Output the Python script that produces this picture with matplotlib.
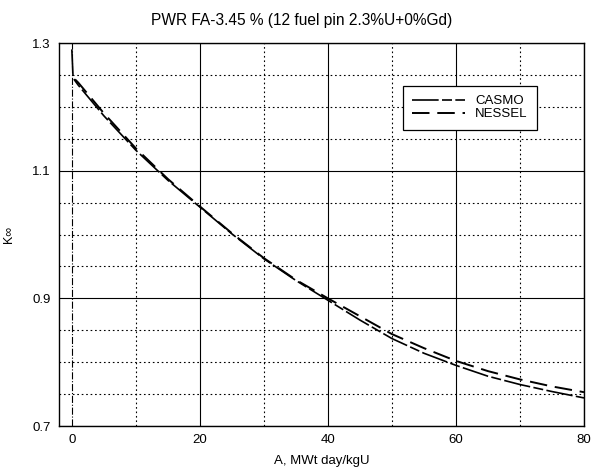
import numpy as np
import matplotlib
matplotlib.use("Agg")
import matplotlib.pyplot as plt

plt.rcParams['font.family'] = ['Liberation Sans', 'DejaVu Sans']

# burnup (MWt day/kgU) and K-inf
x_casmo = [0, 0.2, 1, 5, 10, 15, 20, 25, 30, 35, 40, 45, 50, 55, 60, 65, 70, 75, 80]
k_casmo = [1.29, 1.245, 1.234, 1.186, 1.132, 1.085, 1.043, 1.001, 0.962, 0.928, 0.897,
           0.866, 0.837, 0.814, 0.795, 0.778, 0.765, 0.754, 0.744]

x_nessel = [0.5, 1, 5, 10, 15, 20, 25, 30, 35, 40, 45, 50, 55, 60, 65, 70, 75, 80]
k_nessel = [1.243, 1.238, 1.190, 1.135, 1.087, 1.044, 1.002, 0.963, 0.929, 0.900,
            0.872, 0.844, 0.822, 0.802, 0.786, 0.773, 0.762, 0.753]

xticks = [0, 20, 40, 60, 80]
xminor = [10, 30, 50, 70]
yticks = [0.7, 0.9, 1.1, 1.3]
yminor = [0.75, 0.8, 0.85, 0.95, 1.0, 1.05, 1.15, 1.2, 1.25]

fig = plt.figure(figsize=(5.92, 4.71), dpi=100)
ax = fig.add_axes([0.0997, 0.0955, 0.8868, 0.8132])

# grid: solid at majors, dotted at minors, dash-dot at x=0
for xv in xticks[1:]:
    ax.axvline(xv, color='black', lw=0.8, zorder=1)
ax.axvline(0, color='black', lw=0.8, ls='-.', zorder=1)
for xv in xminor:
    ax.axvline(xv, color='black', lw=0.8, ls=(0, (1.5, 2.5)), zorder=1)
for yv in yticks:
    ax.axhline(yv, color='black', lw=0.8, zorder=1)
for yv in yminor:
    ax.axhline(yv, color='black', lw=0.8, ls=(0, (1.5, 2.5)), zorder=1)

ax.plot(x_casmo, k_casmo, color='black', lw=1.2, ls=(0, (16, 2, 6, 2)), label='CASMO', zorder=3)
ax.plot(x_nessel, k_nessel, color='black', lw=1.4, ls=(0, (9, 4)), label='NESSEL', zorder=3)

ax.set_xlim(-2, 80)
ax.set_ylim(0.7, 1.3)
ax.set_xticks(xticks)
ax.set_yticks(yticks)
ax.set_yticklabels(['0.7', '0.9', '1.1', '1.3'])
ax.tick_params(direction='in', length=0, labelsize=9.5, pad=6)
for s in ax.spines.values():
    s.set_linewidth(1.0)

ax.set_title('PWR FA-3.45 % (12 fuel pin 2.3%U+0%Gd)', fontsize=11.2, pad=13, x=0.463)
ax.set_xlabel('A, MWt day/kgU', fontsize=9.5, labelpad=6)
ax.set_ylabel('K∞', fontsize=9, labelpad=12)

leg = ax.legend(loc='upper left', bbox_to_anchor=(0.642, 0.905), fontsize=9.5,
                handlelength=4.0, fancybox=False, framealpha=1, edgecolor='black',
                borderpad=0.7, labelspacing=0.05)
leg.get_frame().set_linewidth(0.9)

fig.savefig('out.png', dpi=100)
